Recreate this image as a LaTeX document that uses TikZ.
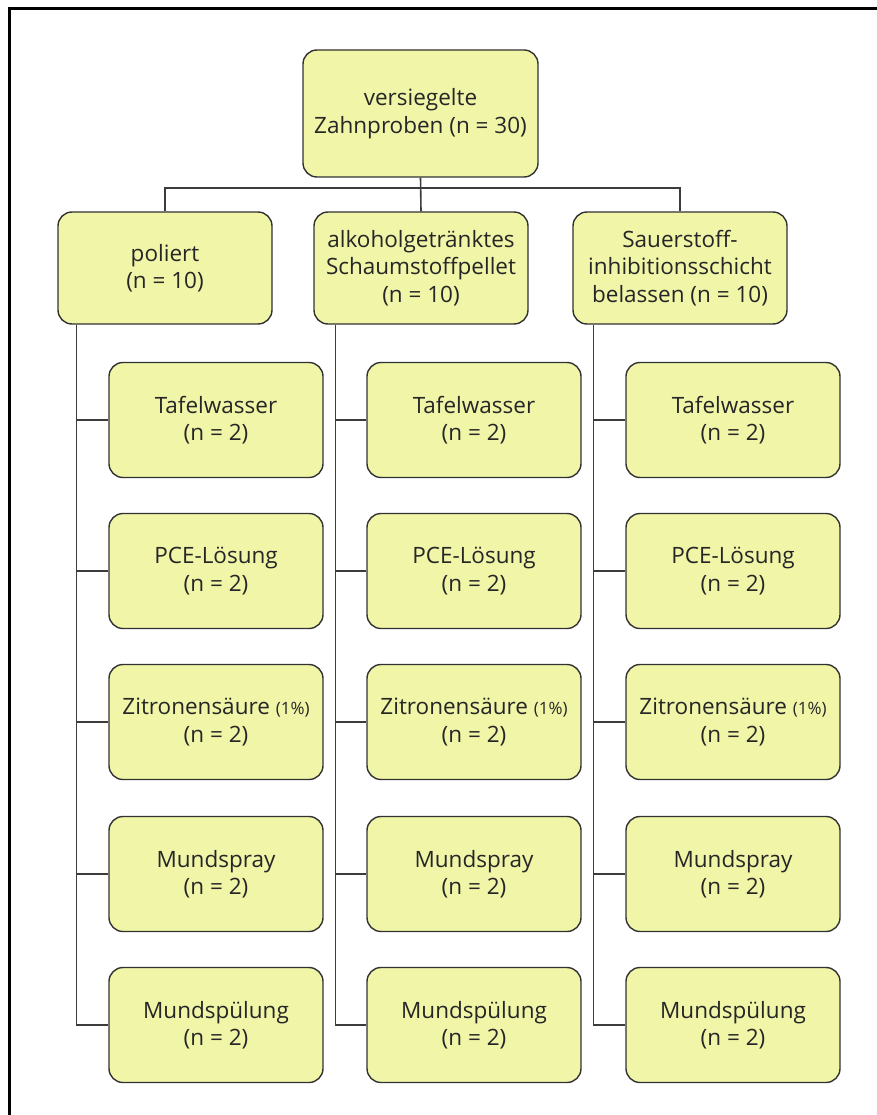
\documentclass[tikz,border=0pt]{standalone}
\usepackage{fontspec}
\setmainfont{Open Sans}
\usetikzlibrary{calc}
\definecolor{boxfill}{RGB}{240,245,168}
\definecolor{boxline}{RGB}{50,50,50}
\definecolor{wire}{RGB}{60,60,60}
\tikzset{
    study tree/.style = {x=1pt, y=-1pt},
    line/.style       = {draw=wire, line width=1.6pt},
    box/.style        = {draw=boxline, line width=1.4pt, fill=boxfill,
                         rounded corners=14pt, align=center, inner sep=0pt,
                         text=black!85, font=\fontsize{22.5}{27.5}\selectfont},
    rootbox/.style    = {box, minimum width=235pt, minimum height=127pt},
    groupbox/.style   = {box, minimum width=214pt, minimum height=112pt},
    leafbox/.style    = {box, minimum width=214pt, minimum height=115pt},
    frame/.style      = {line width=3pt, line cap=rect}
}
\newcommand{\pctsize}{\fontsize{17}{27.5}\selectfont}
\def\grouprow{268}
\def\busrow{188}
\def\rowa{420}
\def\rowb{571}
\def\rowc{722}
\def\rowd{874}
\def\rowe{1025}

\begin{document}
\begin{tikzpicture}[study tree]
\useasboundingbox (0,0) rectangle (877,1115);

% Frame cut off at the right and bottom.
\draw[frame] (877,9) -- (9,9) -- (9,1115);

% Sealed samples and the three surface treatments.
\node[rootbox] (samples) at (420.5,113.5) {versiegelte\\Zahnproben (n = 30)};
\node[groupbox] (polished) at (165,\grouprow) {poliert\\(n = 10)};
\node[groupbox] (pellet) at (421,\grouprow)
    {alkoholgetränktes\\Schaumstoffpellet\\(n = 10)};
\node[groupbox] (oxygen) at (680,\grouprow)
    {Sauerstoff-\\inhibitionsschicht\\belassen (n = 10)};
\coordinate (bus) at (0,\busrow);
\draw[line] (samples.south) -- (pellet.north);
\draw[line] (polished.north) -- (polished.north |- bus)
    -- (oxygen.north |- bus) -- (oxygen.north);

% Storage media below the polished samples.
\node[leafbox] (polwater) at (216,\rowa) {Tafelwasser\\(n = 2)};
\node[leafbox] (polpce) at (216,\rowb) {PCE-Lösung\\(n = 2)};
\node[leafbox] (polcitric) at (216,\rowc)
    {Zitronensäure {\pctsize(1\%)}\\(n = 2)};
\node[leafbox] (polspray) at (216,\rowd) {Mundspray\\(n = 2)};
\node[leafbox] (polrinse) at (216,\rowe) {Mundspülung\\(n = 2)};
\coordinate (polspine) at ($(polished.south west)+(19,0)$);
\draw[line] (polspine) |- (polrinse.west);
\draw[line] (polspine |- polwater) -- (polwater.west);
\draw[line] (polspine |- polpce) -- (polpce.west);
\draw[line] (polspine |- polcitric) -- (polcitric.west);
\draw[line] (polspine |- polspray) -- (polspray.west);

% Storage media below the pellet samples.
\node[leafbox] (pelwater) at (474,\rowa) {Tafelwasser\\(n = 2)};
\node[leafbox] (pelpce) at (474,\rowb) {PCE-Lösung\\(n = 2)};
\node[leafbox] (pelcitric) at (474,\rowc)
    {Zitronensäure {\pctsize(1\%)}\\(n = 2)};
\node[leafbox] (pelspray) at (474,\rowd) {Mundspray\\(n = 2)};
\node[leafbox] (pelrinse) at (474,\rowe) {Mundspülung\\(n = 2)};
\coordinate (pelspine) at ($(pellet.south west)+(22,0)$);
\draw[line] (pelspine) |- (pelrinse.west);
\draw[line] (pelspine |- pelwater) -- (pelwater.west);
\draw[line] (pelspine |- pelpce) -- (pelpce.west);
\draw[line] (pelspine |- pelcitric) -- (pelcitric.west);
\draw[line] (pelspine |- pelspray) -- (pelspray.west);

% Storage media below the samples with the inhibition layer left on.
\node[leafbox] (oxwater) at (733,\rowa) {Tafelwasser\\(n = 2)};
\node[leafbox] (oxpce) at (733,\rowb) {PCE-Lösung\\(n = 2)};
\node[leafbox] (oxcitric) at (733,\rowc)
    {Zitronensäure {\pctsize(1\%)}\\(n = 2)};
\node[leafbox] (oxspray) at (733,\rowd) {Mundspray\\(n = 2)};
\node[leafbox] (oxrinse) at (733,\rowe) {Mundspülung\\(n = 2)};
\coordinate (oxspine) at ($(oxygen.south west)+(21,0)$);
\draw[line] (oxspine) |- (oxrinse.west);
\draw[line] (oxspine |- oxwater) -- (oxwater.west);
\draw[line] (oxspine |- oxpce) -- (oxpce.west);
\draw[line] (oxspine |- oxcitric) -- (oxcitric.west);
\draw[line] (oxspine |- oxspray) -- (oxspray.west);

\end{tikzpicture}
\end{document}
